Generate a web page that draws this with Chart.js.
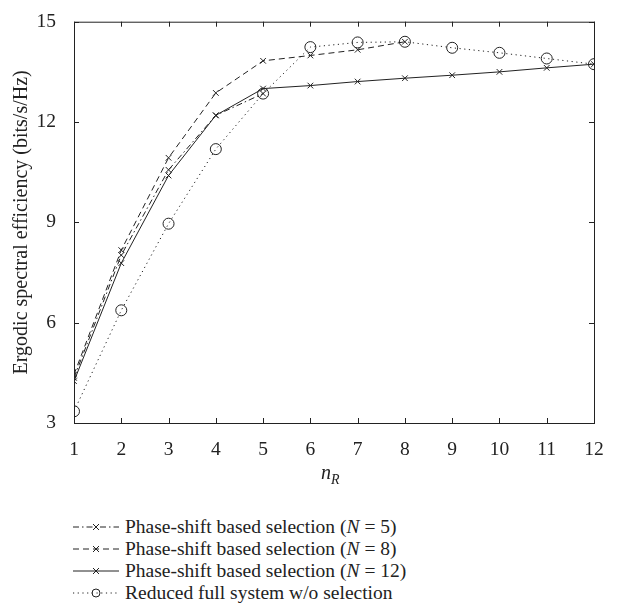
<!DOCTYPE html>
<html>
<head>
<meta charset="utf-8">
<script src="https://cdn.jsdelivr.net/npm/chart.js@4.4.1/dist/chart.umd.min.js"></script>
<style>
  body { margin: 0; background: #fff; }
  #wrap { position: relative; width: 622px; height: 616px; }
  #legend { position: absolute; left: 73px; top: 516px; font-family: "Liberation Serif", serif; font-size: 19.5px; color: #222; }
  .row { height: 22px; display: flex; align-items: center; }
  .row svg { width: 46px; height: 14px; margin-right: 6px; }
</style>
</head>
<body>
<div id="wrap">
  <canvas id="c" width="622" height="500"></canvas>
  <div id="legend"></div>
</div>
<script>
// ---- data ----
const nR = [1, 2, 3, 4, 5, 6, 7, 8, 9, 10, 11, 12];
const selN5 = [4.35, 8.02, 10.57, 12.2, 12.85];
const selN8 = [4.45, 8.17, 10.93, 12.87, 13.83, 13.99, 14.16, 14.4];
const selN12 = [4.25, 7.78, 10.4, 12.2, 13.0, 13.09, 13.21, 13.31, 13.4, 13.5, 13.62, 13.73];
const reducedFull = [3.35, 6.37, 8.96, 11.19, 12.85, 14.24, 14.38, 14.4, 14.22, 14.07, 13.9, 13.73];
const yTicks = [3, 6, 9, 12, 15];

const ink = '#222';
const serif = '"Liberation Serif", "Times New Roman", serif';

const toPts = arr => arr.map((v, i) => ({ x: nR[i], y: v }));

const series = [
    { label: 'Phase-shift based selection (N = 5)', data: selN5, dash: [6, 3, 1.5, 3], marker: 'crossRot', r: 4 },
    { label: 'Phase-shift based selection (N = 8)', data: selN8, dash: [6, 4], marker: 'crossRot', r: 4 },
    { label: 'Phase-shift based selection (N = 12)', data: selN12, dash: [], marker: 'crossRot', r: 4 },
    { label: 'Reduced full system w/o selection', data: reducedFull, dash: [1.2, 3.5], marker: 'circle', r: 5.5 }
];

// box with inward ticks on all four sides + the n_R axis title
const frame = {
    id: 'frame',
    afterDraw(chart) {
        const { ctx, chartArea: a, scales: { x, y } } = chart;
        ctx.save();
        ctx.strokeStyle = ink;
        ctx.lineWidth = 1;
        ctx.setLineDash([]);
        ctx.strokeRect(a.left + 0.5, a.top + 0.5, a.right - a.left, a.bottom - a.top);
        const t = 5;
        ctx.beginPath();
        nR.forEach(v => {
            const px = Math.round(x.getPixelForValue(v)) + 0.5;
            ctx.moveTo(px, a.bottom); ctx.lineTo(px, a.bottom - t);
            ctx.moveTo(px, a.top); ctx.lineTo(px, a.top + t);
        });
        yTicks.forEach(v => {
            const py = Math.round(y.getPixelForValue(v)) + 0.5;
            ctx.moveTo(a.left, py); ctx.lineTo(a.left + t, py);
            ctx.moveTo(a.right, py); ctx.lineTo(a.right - t, py);
        });
        ctx.stroke();

        // x title: italic n with subscript R
        ctx.fillStyle = ink;
        ctx.textBaseline = 'alphabetic';
        ctx.font = 'italic 20px ' + serif;
        const cx = (a.left + a.right) / 2 - 7;
        ctx.fillText('n', cx - 6, 479);
        ctx.font = 'italic 14px ' + serif;
        ctx.fillText('R', cx + 4, 484);
        ctx.restore();
    }
};

new Chart(document.getElementById('c'), {
    type: 'line',
    data: {
        datasets: series.map(s => ({
            label: s.label,
            data: toPts(s.data),
            borderColor: ink,
            borderWidth: 1,
            borderDash: s.dash,
            pointStyle: s.marker,
            pointRadius: s.r,
            pointBorderColor: ink,
            pointBorderWidth: 1,
            pointBackgroundColor: 'rgba(0,0,0,0)',
            fill: false,
            tension: 0
        }))
    },
    options: {
        responsive: false,
        animation: false,
        layout: { padding: { left: 0, right: 28, top: 14, bottom: 0 } },
        plugins: { legend: { display: false }, tooltip: { enabled: false } },
        scales: {
            x: {
                type: 'linear', min: 1, max: 12,
                grid: { display: false }, border: { display: false },
                ticks: { stepSize: 1, color: ink, padding: 7, font: { family: serif, size: 19.5 } },
                afterFit: s => { s.height = 77; }
            },
            y: {
                min: 3, max: 15,
                grid: { display: false }, border: { display: false },
                ticks: { stepSize: 3, color: ink, padding: 10, font: { family: serif, size: 19.5 } },
                title: {
                    display: true, text: 'Ergodic spectral efficiency (bits/s/Hz)', color: ink,
                    font: { family: serif, size: 20 }, padding: { top: 10, bottom: 0 }
                },
                afterFit: s => { s.width = 74; }
            }
        }
    },
    plugins: [frame]
});

// ---- HTML legend below the plot ----
const legend = document.getElementById('legend');
series.forEach(s => {
    const mk = s.marker === 'circle'
        ? '<circle cx="23" cy="7" r="4" fill="none" stroke="' + ink + '" stroke-width="1"/>'
        : '<path d="M20 4 L26 10 M26 4 L20 10" stroke="' + ink + '" stroke-width="1"/>';
    const row = document.createElement('div');
    row.className = 'row';
    row.innerHTML = '<svg viewBox="0 0 46 14"><line x1="0" y1="7" x2="46" y2="7" stroke="' + ink +
        '" stroke-width="1" stroke-dasharray="' + (s.dash.length ? s.dash.join(' ') : 'none') + '"/>' + mk + '</svg>' +
        '<span>' + s.label.replace(/\(N = (\d+)\)/, '(<i>N</i> = $1)') + '</span>';
    legend.appendChild(row);
});
</script>
</body>
</html>
